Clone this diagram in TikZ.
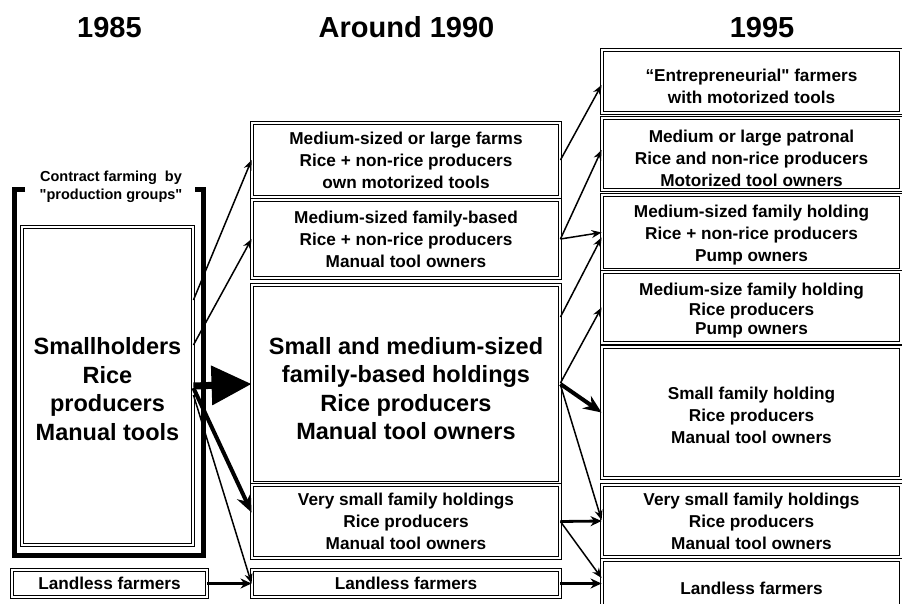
\documentclass[tikz,border=0pt]{standalone}
\usepackage{fontspec}
\setmainfont{Liberation Sans}
\setmonofont{Liberation Sans}
\usetikzlibrary{arrows.meta}
\newcommand\sq{{\ttfamily"}}
\newcommand\dn[1]{\rule{0pt}{#1pt}}
\begin{document}
\begin{tikzpicture}[x=1pt,y=-1pt,
  dbox/.style={draw=black, line width=0.9pt, double=white, double distance=1.3pt, inner sep=0pt, align=center, font=\bfseries\fontsize{17.2}{22}\selectfont},
  bigtext/.style={font=\bfseries\fontsize{23.5}{28.5}\selectfont},
  yeartitle/.style={font=\bfseries\fontsize{29}{34}\selectfont, anchor=base},
  midbox/.style={dbox, minimum width=308pt},
  rgtbox/.style={dbox, minimum width=299pt},
  arrthin/.style={line width=1.5pt, -{Stealth[length=10pt,width=8pt]}},
  arrmed/.style={line width=2.8pt, -{Stealth[length=11pt,width=10pt]}},
  arrthick/.style={line width=4pt, -{Stealth[length=18pt,width=15pt]}},
  arrbig/.style={line width=7pt, -{Triangle[length=40pt,width=38pt]}},
]
\useasboundingbox (0,0) rectangle (902,604);

% titles
\node[yeartitle] (t1) at (109.5,38) {1985};
\node[yeartitle] (t2) at (406.5,38) {Around 1990};
\node[yeartitle] (t3) at (762,38) {1995};

% bracket for contract farming
\draw[line width=5pt, miter limit=10] (25,189.5) -- (14,189.5) -- (14,555) -- (203.5,555) -- (203.5,189.5) -- (195,189.5);
\node[align=center, font=\bfseries\fontsize{14.5}{18}\selectfont] (cf) at (111,187) {Contract farming~ by\\\sq production groups\sq};

% 1985
\node[dbox, minimum width=171pt, minimum height=318pt, bigtext] (sh) at (107.5,386) {\dn{23.6}Smallholders\\Rice\\producers\\Manual tools};
\node[dbox, minimum width=195pt, minimum height=27pt] (lm) at (109.5,583.5) {Landless farmers};

% around 1990
\node[midbox, minimum height=74pt] (m1) at (406,160) {Medium-sized or large farms\\Rice + non-rice producers\\own motorized tools};
\node[midbox, minimum height=78pt] (m2) at (406,239) {Medium-sized family-based\\Rice + non-rice producers\\Manual tool owners};
\node[midbox, minimum height=198pt, bigtext] (m3) at (406,384) {\dn{26.6}Small and medium-sized\\family-based holdings\\Rice producers\\Manual tool owners};
\node[midbox, minimum height=73pt] (m4) at (406,521.5) {Very small family holdings\\Rice producers\\Manual tool owners};
\node[midbox, minimum height=27pt] (m5) at (406,583.5) {Landless farmers};

% 1995
\node[rgtbox, minimum height=63pt] (rA) at (751.5,81.5) {\dn{22.5}“Entrepreneurial\sq{} farmers\\with motorized tools};
\node[rgtbox, minimum height=72pt] (rB) at (751.5,154) {\dn{20.5}Medium or large patronal\\Rice and non-rice producers\\Motorized tool owners};
\node[rgtbox, minimum height=75pt] (rC) at (751.5,232.5) {\dn{17.5}Medium-sized family holding\\Rice + non-rice producers\\Pump owners};
\node[rgtbox, minimum height=71pt, font=\bfseries\fontsize{17.2}{19.5}\selectfont] (rD) at (751.5,307.5) {\dn{19.5}Medium-size family holding\\Rice producers\\Pump owners};
\node[rgtbox, minimum height=131pt] (rE) at (751.5,412.5) {\dn{17.5}Small family holding\\Rice producers\\Manual tool owners};
\node[rgtbox, minimum height=72pt] (rF) at (751.5,521) {Very small family holdings\\Rice producers\\Manual tool owners};
\node[rgtbox, minimum height=56pt] (rG) at (751.5,588) {Landless farmers};

% arrows 1985 -> 1990
\draw[arrthin] ([yshift=86pt]sh.east) -- (m1.west);
\draw[arrthin] ([yshift=41pt]sh.east) -- (m2.west);
\draw[arrbig] (sh.east) -- (m3.west);
\draw[arrthick] ([yshift=-2pt]sh.east) -- ([yshift=9pt]m4.west);
\draw[arrthin] ([yshift=-9pt]sh.east) -- (m5.west);
\draw[arrmed] (lm.east) -- (m5.west);

% arrows 1990 -> 1995
\draw[arrthin] (m1.east) -- ([yshift=-3.5pt]rA.west);
\draw[arrthin] (m2.east) -- ([yshift=4pt]rB.west);
\draw[arrthin] (m2.east) -- (rC.west);
\draw[arrthin] ([yshift=67pt]m3.east) -- ([yshift=-5pt]rC.west);
\draw[arrthin] ([yshift=1pt]m3.east) -- (rD.west);
\draw[arrthick] (m3.east) -- (rE.west);
\draw[arrthin] ([yshift=-1pt]m3.east) -- ([yshift=1pt]rF.west);
\draw[arrmed] (m4.east) -- (rF.west);
\draw[arrthin] (m4.east) -- ([yshift=10pt]rG.west);
\draw[arrmed] (m5.east) -- ([yshift=4.5pt]rG.west);
\end{tikzpicture}
\end{document}
